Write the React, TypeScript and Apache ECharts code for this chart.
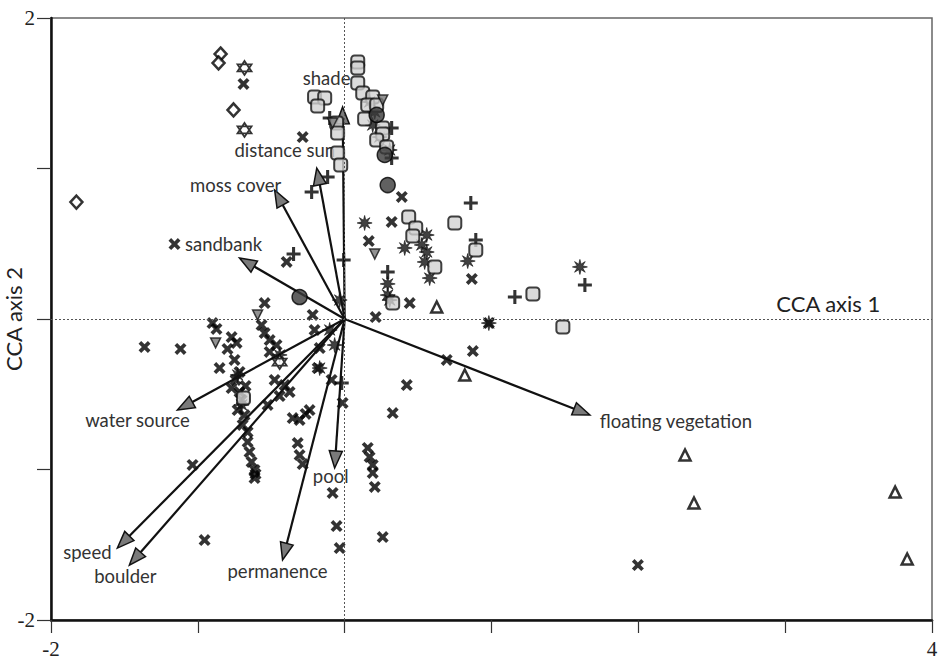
import React, { useEffect, useRef } from "react";
import * as echarts from "echarts";

// ---- data (CCA scores) ----
const diamonds: number[][] = [
  [-1.827, 0.777], [-0.845, 1.761], [-0.859, 1.701], [-0.757, 1.389],
];
const hexagrams: number[][] = [
  [-0.682, 1.668], [-0.682, 1.256], [-0.443, -0.286],
];
const crosses: number[][] = [
  [-0.689, 1.562], [-0.286, 1.209], [-1.159, 0.498], [0.389, 0.811], [0.32, 0.645],
  [0.164, 0.518], [0.866, 0.266], [0.443, 0.106], [0.211, 0.013], [-0.395, 0.379],
  [-0.545, 0.106], [-1.363, -0.186], [-1.118, -0.199], [-0.9, -0.027], [-0.873, -0.066],
  [-0.77, -0.12], [-0.736, -0.159], [-0.798, -0.199], [-0.852, -0.326], [-0.566, -0.04],
  [-0.545, -0.093], [-0.511, -0.14], [-0.464, -0.173], [-0.511, -0.219], [-0.75, -0.272],
  [-0.716, -0.352], [-0.743, -0.405], [-0.77, -0.459], [-0.716, -0.485], [-0.675, -0.445],
  [-0.702, -0.538], [-0.729, -0.605], [-0.682, -0.638], [-0.695, -0.704], [-0.661, -0.751],
  [-0.661, -0.817], [-0.648, -0.884], [-0.634, -0.95], [-0.614, -1.003], [-0.614, -1.057],
  [-0.607, -1.03], [-0.477, -0.405], [-0.409, -0.439], [-0.375, -0.485], [-0.443, -0.512],
  [-0.525, -0.571], [-0.354, -0.658], [-0.307, -0.671], [-0.266, -0.631], [-0.239, -0.605],
  [-0.32, -0.824], [-0.307, -0.904], [-0.286, -0.964], [-0.218, 0.027], [-0.205, -0.073],
  [-0.17, -0.193], [-0.184, -0.326], [-0.089, -0.405], [-0.014, -0.558], [0.423, -0.439],
  [0.327, -0.625], [0.157, -0.857], [0.17, -0.917], [0.191, -0.97], [0.191, -1.023],
  [0.205, -1.116], [-0.082, -1.156], [-0.055, -1.376], [-0.034, -1.522], [0.259, -1.449],
  [-0.954, -1.469], [-1.036, -0.97], [1.997, -1.635], [0.695, -0.272], [0.873, -0.213],
  [0.982, -0.027],
];
const pluses: number[][] = [
  [-0.348, 0.432], [-0.102, 1.336], [-0.116, 0.944], [-0.225, 0.844], [0.32, 1.269],
  [0.32, 1.07], [0.859, 0.771], [0.893, 0.525], [1.159, 0.146], [1.636, 0.226],
  [-0.007, 0.392], [-0.02, -0.425], [0.293, 0.312],
];
const squares: number[][] = [
  [0.089, 1.708], [0.089, 1.668], [0.089, 1.568], [0.123, 1.502], [0.191, 1.475],
  [0.157, 1.422], [0.218, 1.422], [0.136, 1.329], [0.259, 1.269], [0.259, 1.229],
  [0.218, 1.189], [0.286, 1.143], [-0.205, 1.475], [-0.136, 1.469], [-0.184, 1.415],
  [-0.055, 1.302], [-0.048, 1.236], [-0.048, 1.103], [-0.027, 1.023], [0.436, 0.678],
  [0.484, 0.605], [0.464, 0.552], [0.614, 0.346], [0.75, 0.638], [0.893, 0.459],
  [1.282, 0.166], [1.486, -0.053], [0.327, 0.106], [-0.689, -0.525],
];
const circles: number[][] = [
  [0.273, 1.09], [0.293, 0.89], [-0.307, 0.146], [0.218, 1.356],
];
const downTriangles: number[][] = [
  [0.259, 1.455], [-0.082, 1.302], [0.205, 0.432], [-0.593, 0.027], [-0.879, -0.159],
];
const upTriangles: number[][] = [
  [0.627, 0.08], [0.818, -0.372], [2.318, -0.904], [2.379, -1.223], [3.749, -1.15], [3.831, -1.595],
];
const asterisks: number[][] = [
  [0.17, 1.442], [0.205, 1.376], [0.191, 1.289], [0.239, 1.209], [0.307, 1.123],
  [0.409, 0.472], [0.559, 0.558], [0.525, 0.492], [0.559, 0.445], [0.545, 0.379],
  [0.579, 0.272], [0.293, 0.233], [0.293, 0.159], [0.307, 0.126], [0.136, 0.638],
  [0.838, 0.385], [1.602, 0.346], [0.982, -0.027], [-0.102, -0.073], [-0.034, 0.126],
  [-0.068, -0.173], [-0.17, -0.326], [-0.443, -0.239], [-0.729, -0.372], [-0.702, -0.571],
];

// environmental variables (biplot arrows)
const envNames = [
  "shade", "distance sun", "moss cover", "sandbank", "water source",
  "speed", "boulder", "permanence", "pool", "floating vegetation",
];
const envX = [-0.014, -0.19, -0.477, -0.716, -1.139, -1.548, -1.466, -0.423, -0.068, 1.67];
const envY = [1.409, 1.003, 0.857, 0.405, -0.605, -1.522, -1.635, -1.601, -0.99, -0.638];

// label placement relative to arrow tip (px) – style only
const labelDx = [-16, -32, -39, -16, -40, -30, -4, -5, -4, 86];
const labelDy = [-29, -18, -5, -14, 10, 4, 11, 11, 8, 6];

const xTickLabels = ["-2", "4"];
const yTickLabels = ["2", "-2"];

// ---- symbols ----
const crossPath =
  "path://M0,2.2 L2.2,0 L5,2.8 L7.8,0 L10,2.2 L7.2,5 L10,7.8 L7.8,10 L5,7.2 L2.2,10 L0,7.8 L2.8,5 Z";
const plusPath = "path://M3.9,0 L6.1,0 L6.1,3.9 L10,3.9 L10,6.1 L6.1,6.1 L6.1,10 L3.9,10 L3.9,6.1 L0,6.1 L0,3.9 L3.9,3.9 Z";
const starPath =
  "path://M10,5 L6.85,5.77 L8.54,8.54 L5.77,6.85 L5,10 L4.23,6.85 L1.46,8.54 L3.15,5.77 L0,5 L3.15,4.23 L1.46,1.46 L4.23,3.15 L5,0 L5.77,3.15 L8.54,1.46 L6.85,4.23 Z";
const hexPath = "path://M5,0 L9.33,7.5 L0.67,7.5 Z M5,10 L0.67,2.5 L9.33,2.5 Z";
const downTriPath = "path://M0,0 L10,0 L5,8.66 Z";

const LABEL_FONT = "Lato, 'Open Sans', sans-serif";

export default function App() {
  const ref = useRef<HTMLDivElement>(null);

  useEffect(() => {
    if (!ref.current) return;
    const chart = echarts.init(ref.current, undefined, { renderer: "svg" });

    const arrowData = envNames.map((n, i) => ({ name: n, value: [envX[i], envY[i]] }));

    const option: any = {
      animation: false,
      backgroundColor: "#ffffff",
      grid: {
        left: 51, right: 7, top: 18, bottom: 44,
        outerBoundsMode: "none", containLabel: false,
        show: true, borderColor: "#666", borderWidth: 1.5, backgroundColor: "transparent",
      },
      xAxis: {
        type: "value", min: -2, max: 4, interval: 1,
        axisLine: { show: true, onZero: false, lineStyle: { color: "#111", width: 2.5 } },
        axisTick: { show: true, inside: false, length: 13, lineStyle: { color: "#333", width: 1.2 } },
        axisLabel: {
          margin: 18,
          fontFamily: "'Liberation Serif', serif", fontSize: 21, color: "#222",
          formatter: (v: number) => (v === -2 ? xTickLabels[0] : v === 4 ? xTickLabels[1] : ""),
        },
        splitLine: { show: false },
      },
      yAxis: {
        type: "value", min: -2, max: 2, interval: 1,
        name: "CCA axis 2", nameLocation: "middle", nameGap: 27, nameMoveOverlap: false,
        nameTextStyle: { fontFamily: LABEL_FONT, fontSize: 22, color: "#222" },
        axisLine: { show: true, onZero: false, lineStyle: { color: "#111", width: 2.5 } },
        axisTick: { show: true, inside: false, length: 14, lineStyle: { color: "#333", width: 1.2 } },
        axisLabel: {
          margin: 16,
          fontFamily: "'Liberation Serif', serif", fontSize: 21, color: "#222",
          formatter: (v: number) => (v === 2 ? yTickLabels[0] : v === -2 ? yTickLabels[1] : ""),
        },
        splitLine: { show: false },
      },
      graphic: [
        {
          type: "text", right: 58, top: 292,
          style: { text: "CCA axis 1", fontFamily: LABEL_FONT, fontSize: 22, fill: "#222" },
        },
      ],
      series: [
        {
          type: "scatter", name: "cross", data: crosses, symbol: crossPath, symbolSize: 12,
          itemStyle: { color: "#000" },
          markLine: {
            silent: true, symbol: "none", label: { show: false },
            lineStyle: { type: [2, 2], color: "#555", width: 1 },
            data: [{ xAxis: 0 }, { yAxis: 0 }],
          },
          z: 2,
        },
        {
          type: "scatter", name: "plus", data: pluses, symbol: plusPath, symbolSize: 14,
          itemStyle: { color: "#000" }, z: 2,
        },
        {
          type: "scatter", name: "asterisk", data: asterisks, symbol: starPath, symbolSize: 15,
          itemStyle: { color: "#111", borderColor: "#111", borderWidth: 0.8 }, z: 2,
        },
        {
          type: "custom", name: "env", coordinateSystem: "cartesian2d", data: arrowData, z: 3,
          renderItem: (params: any, api: any) => {
            const i = params.dataIndex;
            const p0 = api.coord([0, 0]);
            const p1 = api.coord([api.value(0), api.value(1)]);
            const dx = p1[0] - p0[0];
            const dy = p1[1] - p0[1];
            const len = Math.sqrt(dx * dx + dy * dy) || 1;
            const ux = dx / len, uy = dy / len;
            const nx = -uy, ny = ux;
            const hl = 17, hw = 6.5;
            const bx = p1[0] - ux * hl, by = p1[1] - uy * hl;
            return {
              type: "group",
              children: [
                {
                  type: "line",
                  shape: { x1: p0[0], y1: p0[1], x2: bx, y2: by },
                  style: { stroke: "#111", lineWidth: 2.2 },
                },
                {
                  type: "polygon",
                  shape: { points: [[p1[0], p1[1]], [bx + nx * hw, by + ny * hw], [bx - nx * hw, by - ny * hw]] },
                  style: { fill: "#7a7a7a", stroke: "#111", lineWidth: 1.5 },
                },
                {
                  type: "text",
                  x: p1[0] + labelDx[i],
                  y: p1[1] + labelDy[i],
                  style: {
                    text: envNames[i], fontFamily: LABEL_FONT, fontSize: 18.5, fill: "#333",
                    align: "center", verticalAlign: "middle",
                  },
                },
              ],
            };
          },
        },
        {
          type: "scatter", name: "square", data: squares, symbol: "roundRect", symbolSize: 13,
          itemStyle: { color: "#d2d2d2", borderColor: "#111", borderWidth: 2 }, z: 4,
        },
        {
          type: "scatter", name: "circle", data: circles, symbol: "circle", symbolSize: 15,
          itemStyle: { color: "#3a3a3a", borderColor: "#000", borderWidth: 1.5 }, z: 4,
        },
        {
          type: "scatter", name: "downTriangle", data: downTriangles, symbol: downTriPath, symbolSize: 10,
          itemStyle: { color: "#777", borderColor: "#111", borderWidth: 1.5 }, z: 4,
        },
        {
          type: "scatter", name: "upTriangle", data: upTriangles, symbol: "triangle", symbolSize: 11,
          itemStyle: { color: "#fff", borderColor: "#000", borderWidth: 2.5 }, z: 4,
        },
        {
          type: "scatter", name: "diamond", data: diamonds, symbol: "diamond", symbolSize: [12, 13],
          itemStyle: { color: "#fff", borderColor: "#000", borderWidth: 2.5 }, z: 4,
        },
        {
          type: "scatter", name: "hexagram", data: hexagrams, symbol: hexPath, symbolSize: 14,
          itemStyle: { color: "#fff", borderColor: "#000", borderWidth: 1.8 }, z: 4,
        },
      ],
    };

    chart.setOption(option);
    return () => chart.dispose();
  }, []);

  return (
    <div
      ref={ref}
      style={{ position: "fixed", left: 0, top: 0, width: 939, height: 664, background: "#fff" }}
    />
  );
}
